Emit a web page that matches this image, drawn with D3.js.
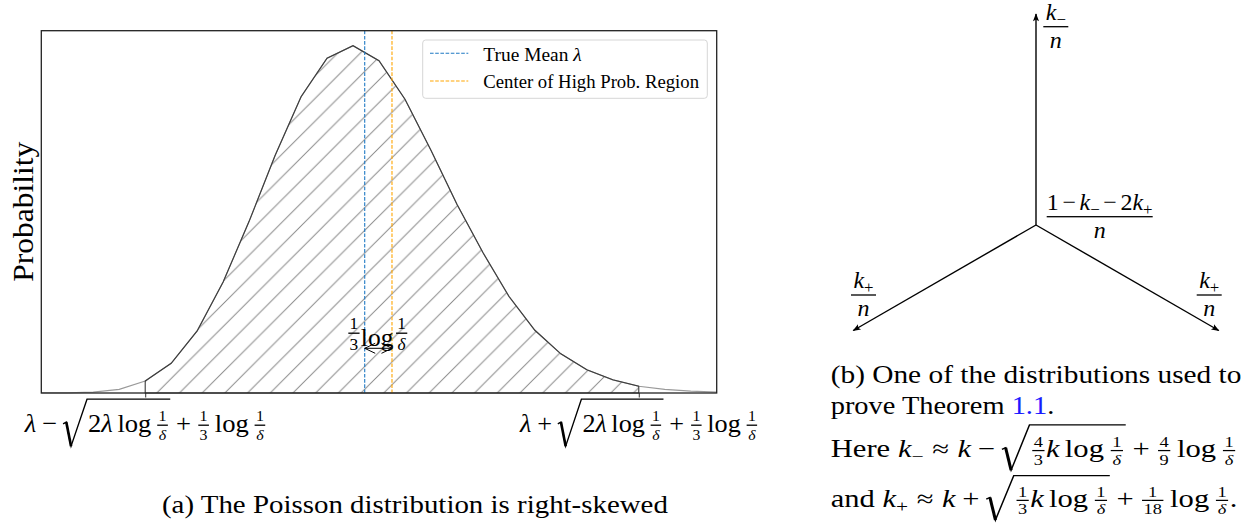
<!DOCTYPE html>
<html>
<head>
<meta charset="utf-8">
<script src="https://cdn.jsdelivr.net/npm/d3@7"></script>
<style>
  body { margin: 0; background: #fff; }
  text { font-family: 'Liberation Serif', 'Times New Roman', serif; white-space: pre; }
</style>
</head>
<body>
<script>
// counts k on the x axis and the Poisson probabilities
const counts = [0, 1, 2, 3, 4, 5, 6, 7, 8, 9, 10, 11, 12, 13, 14, 15, 16, 17, 18, 19, 20, 21, 22, 23, 24, 25, 26];
const probs = [0.00001, 0.00005, 0.0003, 0.0012, 0.0039, 0.0097, 0.0203, 0.0363, 0.0561, 0.0776, 0.0968, 0.1094, 0.1135, 0.1086, 0.0960, 0.0793, 0.0617, 0.0459, 0.0316, 0.0205, 0.0128, 0.0076, 0.0043, 0.0022, 0.0012, 0.0006, 0.0003];
const bandEnds = [4, 23];           // the two labelled ticks, ends of the hatched region
const trueMean = 12.45;
const bandCenter = 13.5;
const legendLabels = ['True Mean ', 'Center of High Prob. Region'];
const legendColors = ['#1f7ac4', '#ffa500'];
// simplex directions (degrees) for panel (b)
const simplexDirs = [90, 210, 330];

const W = 1251, H = 523;
const svg = d3.select('body').append('svg').attr('width', W).attr('height', H);

// ---------- tiny math typesetter ----------
// every expression goes into one <text>, bars and radicals are paths next to it
const meter = svg.append('text').attr('x', -2000).attr('y', -2000);

function measure(s, size, it) {
    meter.attr('font-size', size).attr('font-style', it ? 'italic' : 'normal').text(s);
    return meter.node().getComputedTextLength();
}

// ctx null -> only measure
function mrow(ctx, items, size, ox, oy) {
    let x = 0;
    items.forEach(function (it) {
        if (typeof it === 'string') it = {s: it};
        if (it.s != null) {
            if (ctx) {
                ctx.t.append('tspan').attr('x', ox + x).attr('y', oy + (it.dy || 0) * size)
                    .attr('font-size', size).attr('font-style', it.i ? 'italic' : 'normal')
                    .attr('fill', it.c || '#000').text(it.s);
            }
            x += measure(it.s, size, it.i);
        } else if (it.sp != null) {
            x += it.sp * size;
        } else if (it.sub) {
            x += mrow(ctx, it.sub, size * 0.7, ox + x, oy + 0.22 * size);
        } else if (it.frac) {
            const fs = size * (it.k || 0.6);
            const nw = mrow(null, it.frac[0], fs, 0, 0), dw = mrow(null, it.frac[1], fs, 0, 0);
            const pad = 0.1 * size;
            const w = Math.max(nw, dw) + 2 * pad;
            const bar = oy - (it.axis != null ? it.axis : 0.25) * size;
            if (ctx) {
                mrow(ctx, it.frac[0], fs, ox + x + (w - nw) / 2, bar - (it.gn || 0.25) * fs);
                mrow(ctx, it.frac[1], fs, ox + x + (w - dw) / 2, bar + (it.gd || 0.95) * fs);
                ctx.g.append('rect').attr('x', ox + x + pad * 0.5).attr('y', bar - 0.025 * size)
                    .attr('width', w - pad).attr('height', 0.05 * size);
            }
            x += w;
        } else if (it.sqrt) {
            const top = (it.top || 1.25) * size, bot = (it.bot || 0.56) * size;
            const rw = 0.9 * size;
            const bw = mrow(ctx, it.sqrt, size, ox + x + rw + 0.04 * size, oy);
            const x0 = ox + x, end = x0 + rw + bw + 0.08 * size;
            if (ctx) {
                ctx.g.append('path')
                    .attr('d', 'M' + x0 + ',' + (oy - 0.3 * size) + 'L' + (x0 + 0.12 * size) + ',' + (oy - 0.37 * size)
                        + 'L' + (x0 + 0.3 * size) + ',' + (oy + bot) + 'L' + (x0 + rw) + ',' + (oy - top) + 'H' + end)
                    .attr('fill', 'none').attr('stroke', '#000').attr('stroke-width', 0.05 * size);
                ctx.g.append('path')
                    .attr('d', 'M' + (x0 + 0.12 * size) + ',' + (oy - 0.37 * size) + 'L' + (x0 + 0.3 * size) + ',' + (oy + bot))
                    .attr('stroke', '#000').attr('stroke-width', 0.1 * size);
            }
            x = end - ox;
        }
    });
    return x;
}

function math(parent, items, size, x, y, width, anchor) {
    const g = parent.append('g');
    const w = mrow(null, items, size, 0, 0);
    const ctx = {g: g, t: g.append('text')};
    mrow(ctx, items, size, 0, 0);
    const sx = width ? width / w : 1;
    const x0 = anchor === 'middle' ? x - w * sx / 2 : x;
    g.attr('transform', 'translate(' + x0 + ',' + y + ') scale(' + sx + ',1)');
    return g;
}

function dfrac(parent, num, den, size, x0, x1, barY) {
    const g = parent.append('g');
    const ctx = {g: g, t: g.append('text')};
    const nw = mrow(null, num, size, 0, 0), dw = mrow(null, den, size, 0, 0);
    const cx = (x0 + x1) / 2;
    mrow(ctx, num, size, cx - nw / 2, barY - 0.3 * size);
    mrow(ctx, den, size, cx - dw / 2, barY + 0.88 * size);
    g.append('rect').attr('x', x0).attr('y', barY - 0.65).attr('width', x1 - x0).attr('height', 1.3);
}

const delta = {s: 'δ', i: 1};
const lam = {s: 'λ', i: 1};
const oneOverDelta = {frac: [['1'], [delta]]};
const logInv = [{sp: 0.17}, 'log', {sp: 0.17}, oneOverDelta];
const binSp = {sp: 0.22};

// ---------- panel (a): Poisson pmf ----------
const x = d3.scaleLinear().domain([0, 26]).range([41.3, 716.7]);
const y = d3.scaleLinear().domain([0, 0.1184]).range([393, 30.7]);
const pts = counts.map((k, i) => ({k: k, p: probs[i]}));

const defs = svg.append('defs');
const hw = 22.7;
defs.append('pattern').attr('id', 'hatch').attr('patternUnits', 'userSpaceOnUse')
    .attr('width', hw).attr('height', hw).attr('patternTransform', 'translate(4.9,0)')
    .append('path')
    .attr('d', 'M0,' + hw + 'L' + hw + ',0M-3,3L3,-3M' + (hw - 3) + ',' + (hw + 3) + 'L' + (hw + 3) + ',' + (hw - 3))
    .attr('stroke', '#8a8a8a').attr('stroke-width', 1);

const plot = svg.append('g');

// whole curve in grey
plot.append('path').datum(pts)
    .attr('d', d3.line().x(d => x(d.k)).y(d => y(d.p)))
    .attr('fill', 'none').attr('stroke', '#9a9a9a').attr('stroke-width', 1.2);

// hatched high-probability region
const band = pts.filter(d => d.k >= bandEnds[0] && d.k <= bandEnds[1]);
plot.append('path').datum(band)
    .attr('d', d3.area().x(d => x(d.k)).y0(y(0)).y1(d => y(d.p)))
    .attr('fill', 'url(#hatch)').attr('stroke', '#3c3c3c').attr('stroke-width', 1.1);

// mean and centre lines
[trueMean, bandCenter].forEach(function (v, i) {
    plot.append('line').attr('x1', x(v)).attr('x2', x(v)).attr('y1', y.range()[1]).attr('y2', y(0))
        .attr('stroke', legendColors[i]).attr('stroke-width', 1.1).attr('stroke-dasharray', '3.6,1.6');
});

// x axis with two ticks
const xAxis = d3.axisBottom(x).tickValues(bandEnds).tickSize(4.5).tickFormat('');
const ax = plot.append('g').attr('transform', 'translate(0,' + y(0) + ')').call(xAxis);
ax.select('.domain').remove();
ax.selectAll('.tick line').attr('stroke', '#333').attr('stroke-width', 1);

// frame
plot.append('rect').attr('x', x.range()[0]).attr('y', y.range()[1])
    .attr('width', x.range()[1] - x.range()[0]).attr('height', y(0) - y.range()[1])
    .attr('fill', 'none').attr('stroke', '#222').attr('stroke-width', 1.3);

// tick labels
const tickItems = [
    [lam, binSp, '−', binSp, {sqrt: ['2', lam].concat(logInv)}, binSp, '+', binSp, {frac: [['1'], ['3']]}].concat(logInv),
    [lam, binSp, '+', binSp, {sqrt: ['2', lam].concat(logInv)}, binSp, '+', binSp, {frac: [['1'], ['3']]}].concat(logInv)
];
const tickWidths = [241.7, 238.3];
bandEnds.forEach(function (k, i) {
    math(svg, tickItems[i], 26, x(k) + 0.5, 431.7, tickWidths[i], 'middle');
});

// y label
svg.append('text').attr('transform', 'translate(32.5,211.7) rotate(-90)')
    .attr('text-anchor', 'middle').attr('font-size', 29)
    .attr('textLength', 140).attr('lengthAdjust', 'spacingAndGlyphs').text('Probability');

// legend
const leg = svg.append('g');
leg.append('rect').attr('x', 422.7).attr('y', 40).attr('width', 284.6).attr('height', 58.3)
    .attr('rx', 3).attr('fill', '#fff').attr('fill-opacity', 0.85).attr('stroke', '#d6d6d6');
const legY = [53.3, 81];
legendLabels.forEach(function (lab, i) {
    leg.append('line').attr('x1', 430).attr('x2', 468.3).attr('y1', legY[i]).attr('y2', legY[i])
        .attr('stroke', legendColors[i]).attr('stroke-width', 1.1).attr('stroke-dasharray', '3.6,1.6');
});
math(leg, [legendLabels[0], lam], 19.5, 483.3, 60.8, 98.4);
math(leg, [legendLabels[1]], 19.5, 483.3, 87.5, 215.7);

// annotation 1/3 log 1/delta with double arrow
const annFrac = {axis: 0.5, k: 0.68, gn: 0.25, gd: 0.95};
math(svg, [Object.assign({frac: [['1'], ['3']]}, annFrac), 'log', {sp: 0.05}, Object.assign({frac: [['1'], [delta]]}, annFrac)],
    26, 377.8, 346.2, 61.5, 'middle');
const ay = 348.3, a0 = x(trueMean), a1 = x(bandCenter);
svg.append('path')
    .attr('d', 'M' + a0 + ',' + ay + 'H' + a1
        + 'M' + (a0 + 10.5) + ',' + (ay - 5) + 'L' + a0 + ',' + ay + 'L' + (a0 + 10.5) + ',' + (ay + 5)
        + 'M' + (a1 - 10.5) + ',' + (ay - 5) + 'L' + a1 + ',' + ay + 'L' + (a1 - 10.5) + ',' + (ay + 5))
    .attr('fill', 'none').attr('stroke', '#000').attr('stroke-width', 1);

// caption (a)
math(svg, ['(a) The Poisson distribution is right-skewed'], 25, 162, 513.3, 506);

// ---------- panel (b): simplex arrows ----------
const origin = [1036, 225], arrowLen = 211;
defs.append('marker').attr('id', 'tip').attr('viewBox', '0 0 10 10')
    .attr('refX', 9).attr('refY', 5).attr('markerWidth', 9).attr('markerHeight', 8)
    .attr('markerUnits', 'userSpaceOnUse').attr('orient', 'auto')
    .append('path').attr('d', 'M0,1.2L10,5L0,8.8L2,5Z').attr('fill', '#000');

svg.append('g').selectAll('line').data(simplexDirs).join('line')
    .attr('x1', origin[0]).attr('y1', origin[1])
    .attr('x2', d => origin[0] + arrowLen * Math.cos(d * Math.PI / 180))
    .attr('y2', d => origin[1] - arrowLen * Math.sin(d * Math.PI / 180))
    .attr('stroke', '#000').attr('stroke-width', 1.4).attr('marker-end', 'url(#tip)');

const kMinus = [{s: 'k', i: 1}, {sub: ['−']}];
const kPlus = [{s: 'k', i: 1}, {sub: ['+']}];
const nDen = [{s: 'n', i: 1}];
const numSp = {sp: 0.15};
dfrac(svg, kMinus, nDen, 24, 1043.3, 1068.3, 26.7);
dfrac(svg, ['1', numSp, '−', numSp].concat(kMinus, [numSp, '−', numSp, '2'], kPlus), nDen, 24, 1046.7, 1152.7, 216.7);
dfrac(svg, kPlus, nDen, 24, 851, 876, 295);
dfrac(svg, kPlus, nDen, 24, 1196.7, 1221.7, 295);

// caption (b)
const relSp = {sp: 0.28};
math(svg, ['(b) One of the distributions used to'], 25, 830.7, 382.7, 411);
math(svg, ['prove Theorem ', {s: '1.1', c: '#1a1aff'}, '.'], 25, 830.7, 414, 223.6);
math(svg, ['Here ', {s: 'k', i: 1}, {sub: ['−']}, relSp, '≈', relSp, {s: 'k', i: 1}, binSp, '−', binSp,
    {sqrt: [{frac: [['4'], ['3']]}, {s: 'k', i: 1}].concat(logInv), top: 1.3, bot: 0.55},
    binSp, '+', binSp, {frac: [['4'], ['9']]}].concat(logInv), 24.5, 830.7, 456.7, 406);
math(svg, ['and ', {s: 'k', i: 1}, {sub: ['+']}, relSp, '≈', relSp, {s: 'k', i: 1}, binSp, '+', binSp,
    {sqrt: [{frac: [['1'], ['3']]}, {s: 'k', i: 1}].concat(logInv), top: 1.26, bot: 0.55},
    binSp, '+', binSp, {frac: [['1'], ['18']]}].concat(logInv, ['.']), 24.5, 830.7, 506.5, 406.6);
meter.remove();
</script>
</body>
</html>
